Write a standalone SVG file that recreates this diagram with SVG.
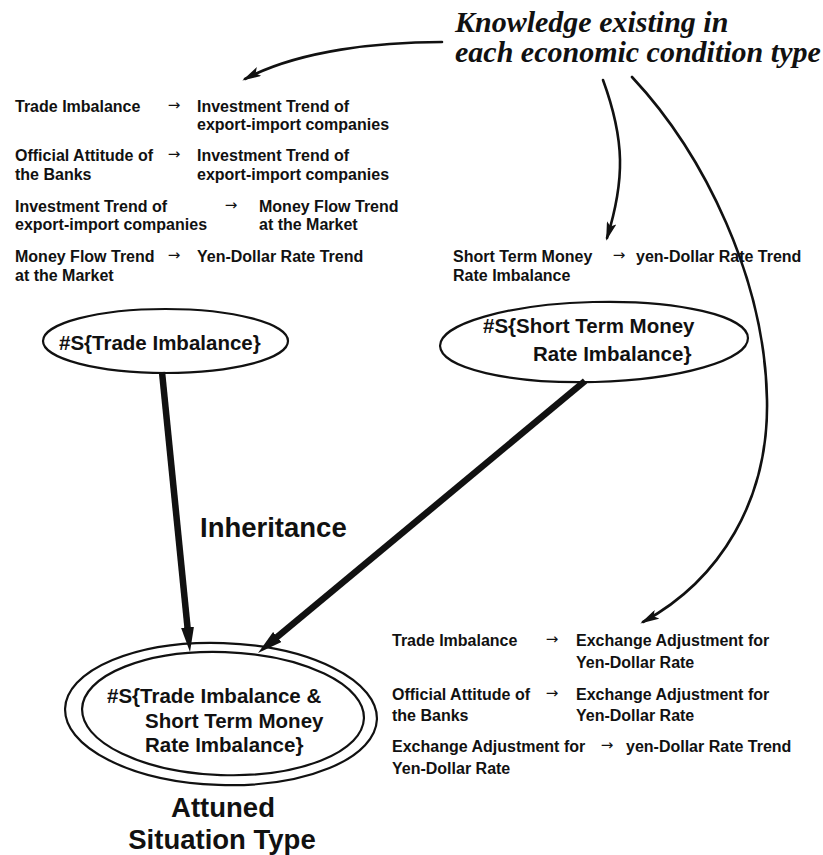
<svg xmlns="http://www.w3.org/2000/svg" width="823" height="855" viewBox="0 0 823 855">
  <style>
    .title { font-family: "Liberation Serif", "Times New Roman", serif; font-style: italic; font-weight: bold; font-size: 30px; fill: #111; }
    .rule { font-family: "Liberation Sans", Arial, Helvetica, sans-serif; font-weight: bold; font-size: 16px; fill: #111; }
    .arr { font-family: "DejaVu Sans", "Liberation Sans", sans-serif; font-size: 15px; fill: #111; text-anchor: middle; }
    .node { font-family: "Liberation Sans", Arial, Helvetica, sans-serif; font-weight: bold; font-size: 20.5px; fill: #111; }
    .big { font-family: "Liberation Sans", Arial, Helvetica, sans-serif; font-weight: bold; font-size: 27.5px; fill: #111; }
    .shape { fill: #fff; stroke: #111; stroke-width: 2.2; }
    .thin { fill: none; stroke: #111; stroke-width: 2.6; stroke-linecap: round; }
    .thick { fill: none; stroke: #111; stroke-width: 6.5; stroke-linecap: butt; }
  </style>
  <defs>
    <marker id="headThin" markerUnits="userSpaceOnUse" viewBox="0 0 19 10" markerWidth="19" markerHeight="10" refX="16" refY="5" orient="auto">
      <path d="M0,0 L19,5 L0,10 L4,5 z" fill="#111"/>
    </marker>
    <marker id="headThick" markerUnits="userSpaceOnUse" viewBox="0 0 25 13" markerWidth="25" markerHeight="13" refX="8" refY="6.5" orient="auto">
      <path d="M0,0 L25,6.5 L0,13 z" fill="#111"/>
    </marker>
  </defs>
  <rect width="823" height="855" fill="#fff"/>

  <!-- heading -->
  <g id="heading">
    <text class="title" x="455" y="32">Knowledge existing in</text>
    <text class="title" x="455" y="62">each economic condition type</text>
  </g>

  <!-- rules of the trade imbalance type -->
  <g id="rules-trade">
    <text class="rule" x="15" y="112">Trade Imbalance</text>
    <text class="arr" x="174" y="110">→</text>
    <text class="rule" x="197" y="112">Investment Trend of</text>
    <text class="rule" x="197" y="130">export-import companies</text>

    <text class="rule" x="15" y="161">Official Attitude of</text>
    <text class="arr" x="174" y="159">→</text>
    <text class="rule" x="197" y="161">Investment Trend of</text>
    <text class="rule" x="15" y="180">the Banks</text>
    <text class="rule" x="197" y="180">export-import companies</text>

    <text class="rule" x="15" y="212">Investment Trend of</text>
    <text class="arr" x="231" y="210">→</text>
    <text class="rule" x="259" y="212">Money Flow Trend</text>
    <text class="rule" x="15" y="230">export-import companies</text>
    <text class="rule" x="259" y="230">at the Market</text>

    <text class="rule" x="15" y="262">Money Flow Trend</text>
    <text class="arr" x="174" y="260">→</text>
    <text class="rule" x="197" y="262">Yen-Dollar Rate Trend</text>
    <text class="rule" x="15" y="281">at the Market</text>
  </g>

  <!-- rule of the short term money rate type -->
  <g id="rules-money">
    <text class="rule" x="453" y="262">Short Term Money</text>
    <text class="arr" x="619" y="260">→</text>
    <text class="rule" x="636" y="262">yen-Dollar Rate Trend</text>
    <text class="rule" x="453" y="281">Rate Imbalance</text>
  </g>

  <!-- rules of the attuned type -->
  <g id="rules-attuned">
    <text class="rule" x="392" y="646">Trade Imbalance</text>
    <text class="arr" x="552" y="644">→</text>
    <text class="rule" x="576" y="646">Exchange Adjustment for</text>
    <text class="rule" x="576" y="668">Yen-Dollar Rate</text>

    <text class="rule" x="392" y="700">Official Attitude of</text>
    <text class="arr" x="552" y="698">→</text>
    <text class="rule" x="576" y="700">Exchange Adjustment for</text>
    <text class="rule" x="392" y="721">the Banks</text>
    <text class="rule" x="576" y="721">Yen-Dollar Rate</text>

    <text class="rule" x="392" y="752">Exchange Adjustment for</text>
    <text class="arr" x="607" y="750">→</text>
    <text class="rule" x="626" y="752">yen-Dollar Rate Trend</text>
    <text class="rule" x="392" y="774">Yen-Dollar Rate</text>
  </g>

  <!-- situation type nodes -->
  <g id="node-trade">
    <ellipse class="shape" cx="165.5" cy="341" rx="122.5" ry="32"/>
    <text class="node" x="59" y="350">#S{Trade Imbalance}</text>
  </g>

  <g id="node-money">
    <ellipse class="shape" cx="594" cy="342" rx="154" ry="40" transform="rotate(-1.5 594 342)"/>
    <text class="node" x="483" y="333">#S{Short Term Money</text>
    <text class="node" x="533" y="361">Rate Imbalance}</text>
  </g>

  <g id="node-attuned">
    <g transform="rotate(2 221 714)">
      <ellipse class="shape" cx="221" cy="714" rx="156" ry="71" stroke-width="2.6"/>
      <ellipse class="shape" cx="223" cy="713.5" rx="141" ry="61.5" stroke-width="2.6"/>
    </g>
    <text class="node" x="107" y="703">#S{Trade Imbalance &amp;</text>
    <text class="node" x="145" y="728">Short Term Money</text>
    <text class="node" x="145" y="752">Rate Imbalance}</text>
  </g>

  <g id="label-attuned">
    <text class="big" x="223" y="817" text-anchor="middle">Attuned</text>
    <text class="big" x="222" y="849" text-anchor="middle">Situation Type</text>
  </g>

  <g id="label-inheritance">
    <text class="big" x="200" y="537">Inheritance</text>
  </g>

  <!-- connectors -->
  <g id="connectors">
    <path class="thin" d="M442,42 C380,42 300,50 245,79" marker-end="url(#headThin)"/>
    <path class="thin" d="M603,80 C625,140 625,180 607,238" marker-end="url(#headThin)"/>
    <path class="thin" d="M632,77 C705,155 765,280 767,400 C769,500 720,580 643,622" marker-end="url(#headThin)"/>
    <path class="thick" d="M162,372 L188.3,635.1" marker-end="url(#headThick)"/>
    <path class="thick" d="M585,381 L271.1,642.1" marker-end="url(#headThick)"/>
  </g>
</svg>
